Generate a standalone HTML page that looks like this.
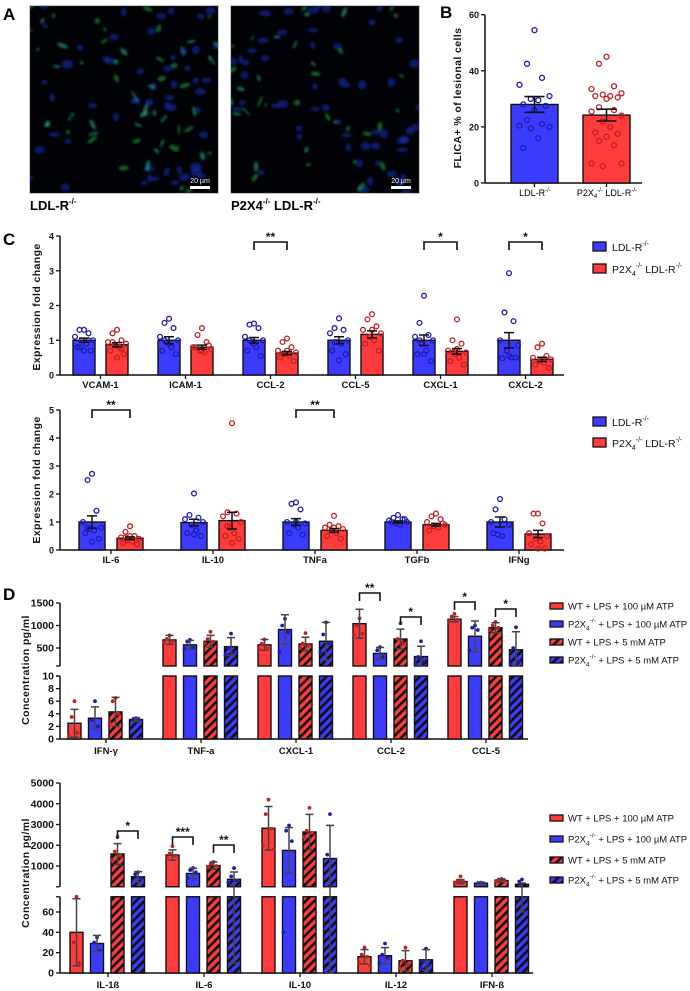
<!DOCTYPE html>
<html><head><meta charset="utf-8"><style>
html,body{margin:0;padding:0;background:#fff;}
svg{display:block;font-family:"Liberation Sans",sans-serif;}
.t{font-size:9px;font-weight:bold;fill:#111;}
.td{font-size:10.5px;font-weight:bold;fill:#111;}
.cat{font-size:9.5px;font-weight:bold;fill:#111;}
.ttl{font-size:10.5px;font-weight:bold;fill:#111;letter-spacing:0.4px;}
.lg{font-size:10.5px;fill:#111;}
.lgd{font-size:9.5px;fill:#111;}
.pl{font-size:17px;font-weight:bold;fill:#000;}
.star{font-size:12px;font-weight:bold;fill:#111;}
</style></head><body>
<svg id="fig" width="690" height="991" viewBox="0 0 690 991">
<defs>
<pattern id="hatchR" width="6" height="6" patternUnits="userSpaceOnUse" patternTransform="rotate(45)"><rect width="6" height="6" fill="#ff3b3b"/><rect width="2.6" height="6" fill="#111"/></pattern>
<pattern id="hatchB" width="6" height="6" patternUnits="userSpaceOnUse" patternTransform="rotate(45)"><rect width="6" height="6" fill="#3b3bff"/><rect width="2.6" height="6" fill="#111"/></pattern>
<filter id="blur"><feGaussianBlur stdDeviation="1.1"/></filter>
<clipPath id="clipL"><rect x="30" y="6" width="188" height="187"/></clipPath>
<clipPath id="clipR"><rect x="231" y="6" width="188" height="187"/></clipPath>
</defs>
<text class="pl" x="3" y="20">A</text>
<text class="pl" x="440" y="18">B</text>
<text class="pl" x="3" y="245">C</text>
<text class="pl" x="3" y="600">D</text>
<g id="imgs"></g>
<g id="panelB"></g>
<g id="panelC1"></g>
<g id="panelC2"></g>
<g id="panelD1"></g>
<g id="panelD2"></g>
</svg>
<script>
// ---------- Panel B data ----------
const B_cats=['LDL-R','P2X4 LDL-R'];
const B_means=[28,24.2];
const B_sems=[2.8,2.1];
const B_bluePts=[54.5,42.5,37.5,35,31,30,29.5,28,27.5,26,22.5,21,20.5,20,19.5,16,12.5];
const B_redPts=[45,42.5,34.5,33.5,32,31.5,31,31,30.5,30,27,26,25.5,24,22,20,18,17.5,16.5,15,13.5,7,7,6];
const B_ticks=[0,20,40,60];
// ---------- Panel C top ----------
const C1_cats=['VCAM-1','ICAM-1','CCL-2','CCL-5','CXCL-1','CXCL-2'];
const C1_blueMean=[1,1,1,1,1,1];
const C1_blueSem=[0.06,0.1,0.08,0.1,0.15,0.22];
const C1_redMean=[0.87,0.8,0.63,1.17,0.68,0.45];
const C1_redSem=[0.06,0.06,0.05,0.1,0.08,0.06];
const C1_bluePts=[[1.3,1.3,1.2,1.1,1.0,1.0,0.9,0.8,0.7,0.7,0.8,1.0],[1.62,1.5,1.35,1.1,1.0,0.95,0.8,0.7,0.6,0.9,1.0],[1.48,1.45,1.35,1.1,1.0,0.95,0.8,0.7,0.55,0.9,1.0],[1.63,1.35,1.3,1.2,1.0,0.95,0.9,0.7,0.6,0.42,0.95],[2.28,1.5,1.15,1.1,1.0,0.9,0.7,0.6,0.4,0.6,1.0],[2.93,1.8,1.55,1.0,0.85,0.7,0.5,0.48,0.5,0.55]];
const C1_redPts=[[1.3,1.2,1.0,0.95,0.9,0.85,0.8,0.7,0.6,0.5,0.95,0.75],[1.35,1.15,0.95,0.8,0.75,0.7,0.65,0.8,0.85,0.7],[1.05,0.95,0.8,0.7,0.65,0.6,0.55,0.5,0.4,0.7,0.6],[1.75,1.6,1.4,1.3,1.2,1.1,1.0,0.9,0.7,1.3],[1.6,1.0,0.9,0.7,0.65,0.6,0.5,0.4,0.3,0.75,0.65],[0.9,0.8,0.55,0.5,0.45,0.4,0.35,0.3,0.2,0.45]];
const C1_ticks=[0,1,2,3,4];
const C1_sig=[[2,'**'],[4,'*'],[5,'*']];
// ---------- Panel C bottom ----------
const C2_cats=['IL-6','IL-10','TNFa','TGFb','IFNg'];
const C2_blueMean=[1,0.98,1.0,1.0,1.0];
const C2_blueSem=[0.22,0.12,0.12,0.04,0.18];
const C2_redMean=[0.42,1.05,0.7,0.9,0.57];
const C2_redSem=[0.05,0.3,0.07,0.05,0.13];
const C2_bluePts=[[2.72,2.5,1.4,1.0,0.8,0.75,0.7,0.6,0.4,0.3,0.8],[2.02,1.25,1.15,1.1,1.0,0.9,0.7,0.6,0.5,0.55],[1.7,1.65,1.45,1.0,0.95,0.9,0.8,0.6,0.55,1.0],[1.25,1.15,1.1,1.05,1.0,0.95,0.9,1.0,1.1],[1.82,1.45,1.1,1.0,0.9,0.55,0.5,0.6]];
const C2_redPts=[[0.85,0.65,0.5,0.45,0.4,0.35,0.3,0.25,0.2,0.5,0.45],[4.53,1.35,1.3,1.2,1.0,0.8,0.6,0.5,0.4,0.25,0.85],[1.22,0.9,0.85,0.8,0.75,0.7,0.6,0.5,0.4,0.8],[1.3,1.2,1.1,1.0,0.9,0.85,0.8,0.7,0.95],[1.3,1.3,0.95,0.6,0.5,0.4,0.3,0.2,0.05,0.05]];
const C2_ticks=[0,1,2,3,4,5];
const C2_sig=[[0,'**'],[2,'**']];
// ---------- Panel D top ----------
const D1_cats=['IFN-γ','TNF-a','CXCL-1','CCL-2','CCL-5'];
const D1_m1=[2.5,680,570,1040,1140]; const D1_sd1=[2.2,100,120,320,60];
const D1_m2=[3.3,570,910,380,760]; const D1_sd2=[1.8,100,330,130,340];
const D1_m3=[4.3,650,590,700,950]; const D1_sd3=[2.3,130,150,220,110];
const D1_m4=[3.1,530,650,310,460]; const D1_sd4=[0.3,200,420,230,400];
const D1_p1=[[6,3.5,1,0.5],[780,700,650,620],[690,600,500,480],[1160,1000,820,800],[1260,1200,1130,1100]];
const D1_p2=[[6,3,2],[680,640,500,480],[1150,1000,850,400],[520,450,300],[1000,950,900,450]];
const D1_p3=[[6.5,6,4,2.5],[860,700,640,600],[830,600,550,500],[1050,700,600],[1080,1000,950,900]];
const D1_p4=[[3.3,3.1,3],[820,500,400,350],[1070,800,600,400],[650,300,200,150],[960,500,200,150]];
const D1_lowTicks=[0,2,4,6,8,10];
const D1_upTicks=[500,1000,1500];
const D1_sig=[[3,0,1,'**',593],[3,2,3,'*',617],[4,0,1,'*',602],[4,2,3,'*',609]];
// ---------- Panel D bottom ----------
const D2_cats=['IL-1ß','IL-6','IL-10','IL-12','IFN-ß'];
const D2_m1=[40,1530,2820,16,250]; const D2_sd1=[33,250,1050,7,100];
const D2_m2=[29,640,1750,17,170]; const D2_sd2=[8,250,1100,8,50];
const D2_m3=[1580,1020,2640,12,300]; const D2_sd3=[500,170,850,10,80];
const D2_m4=[480,360,1360,13,120]; const D2_sd4=[250,350,1600,10,60];
const D2_p1=[[75,30,10],[1950,1600,1500,1400],[4200,3500,2800,2000,1800],[25,18,16,10,7],[500,300,250,200]];
const D2_p2=[[35,30,22],[900,800,700,400],[2950,2700,2200,40],[29,18,15,10],[200,180,150]];
const D2_p3=[[2400,1700,1500,1300],[1200,1100,1000,950],[3800,2700,2600,2400],[25,12,8,5],[380,350,300,280]];
const D2_p4=[[700,600,400],[900,500,300,200],[3500,1550],[24,12,8,5],[350,250]];
const D2_lowTicks=[0,20,40,60];
const D2_upTicks=[1000,2000,3000,4000,5000];
const D2_sig=[[0,2,3,'*',831],[1,0,1,'***',837],[1,2,3,'**',845]];

const NS='http://www.w3.org/2000/svg';
function mk(tag,attrs,parent){const e=document.createElementNS(NS,tag);for(const k in attrs)e.setAttribute(k,attrs[k]);parent.appendChild(e);return e;}
function lin(d0,d1,r0,r1){return v=>r0+(v-d0)*(r1-r0)/(d1-d0);}
const BLUE='#3b3bff',RED='#ff3b3b',DBLUE='#1c1cae',DRED='#c42020';

// ---------- Panel A (microscopy texture) ----------
(function(){
  const g=document.getElementById('imgs');
  const ims=[[30,'clipL'],[231,'clipR']];
  let seed=7;function rnd(){seed=(seed*16807)%2147483647;return seed/2147483647;}
  ims.forEach((im,ii)=>{
    const x0=im[0];
    const r=mk('rect',{x:x0,y:6,width:188,height:187,fill:'#010206',stroke:'#333',"stroke-width":0.6},g);
    
    
    const cg=mk('g',{'clip-path':'url(#'+im[1]+')',filter:'url(#blur)'},g);
    for(let i=0;i<55;i++){
      const cx=x0+rnd()*188,cy=6+rnd()*187;
      mk('ellipse',{cx:cx,cy:cy,rx:2.5+rnd()*3.5,ry:2+rnd()*2.5,fill:'#1630b8',opacity:0.55},cg);
    }
    for(let i=0;i<(ii?35:55);i++){
      const cx=x0+rnd()*188,cy=6+rnd()*187;
      mk('ellipse',{cx:cx,cy:cy,rx:1.5+rnd()*4.5,ry:1+rnd()*1.8,fill:rnd()>0.5?'#22b83c':'#34c49c',opacity:0.5,transform:'rotate('+(rnd()*180)+' '+cx+' '+cy+')'},cg);
    }
    const sb=mk('rect',{x:x0+160,y:186,width:20,height:3,fill:'#fff'},g);
    
    
    const st=mk('text',{x:x0+170,y:183,'text-anchor':'middle','font-size':'7px',fill:'#fff'},g);
    st.textContent='20 µm';
    
    
  });
  const l1=mk('text',{x:30,y:210,'font-size':'13px','font-weight':'bold'},g);
  l1.innerHTML='LDL-R<tspan font-size="8" dy="-6">-/-</tspan>';
  
  
  const l2=mk('text',{x:231,y:210,'font-size':'13px','font-weight':'bold'},g);
  l2.innerHTML='P2X4<tspan font-size="8" dy="-6">-/-</tspan><tspan dy="6"> LDL-R</tspan><tspan font-size="8" dy="-6">-/-</tspan>';
  
  
})();

function yAxis(g,x,ticks,ys,top,bot,cls){
  const a=mk('line',{x1:x,x2:x,y1:top,y2:bot,stroke:'#111','stroke-width':1.5},g);
  
  
  ticks.forEach(t=>{
    mk('line',{x1:x-4,x2:x,y1:ys(t),y2:ys(t),stroke:'#111','stroke-width':1.3},g);
    const tx=mk('text',{x:x-6,y:ys(t)+3.5,'text-anchor':'end',class:cls||'t'},g);
    tx.textContent=t;
    
    
  });
}
function ytitle(g,x,y,txt){
  const t=mk('text',{x:x,y:y,'text-anchor':'middle',class:'ttl',transform:'rotate(-90 '+x+' '+y+')'},g);
  t.textContent=txt;
  
  
}
function circ(g,cx,cy,col,filled,r){
  const c=mk('circle',{cx:cx,cy:cy,r:r||2.3,fill:filled?col:'none',stroke:col,'stroke-width':filled?0:1.3},g);
  
  
}
function jit(i,n,w){const cols=[0,-1,1,-2,2,-0.5,0.5,-1.5,1.5];return cols[i%cols.length]*w;}
function errbar(g,cx,y1,y2,cap,col,w){
  const e=mk('path',{d:'M'+cx+' '+y1+'V'+y2+'M'+(cx-cap)+' '+y1+'H'+(cx+cap)+'M'+(cx-cap)+' '+y2+'H'+(cx+cap),stroke:col,'stroke-width':w||1.5,fill:'none'},g);
  
  
}
function bar(g,x,y,w,h,fill,name){
  const r=mk('rect',{x:x,y:y,width:w,height:Math.max(0,h),fill:fill,stroke:'#111','stroke-width':1.4},g);
  
  
}
function legendLDL(g,x,y1,y2){
  const b1=mk('rect',{x:x,y:y1-5,width:13,height:9,fill:BLUE,stroke:'#111','stroke-width':1.3},g);
  
  
  const t1=mk('text',{x:x+19,y:y1+4,class:'lg'},g);
  t1.innerHTML='LDL-R<tspan font-size="7" dy="-5">-/-</tspan>';
  
  
  const b2=mk('rect',{x:x,y:y2-5,width:13,height:9,fill:RED,stroke:'#111','stroke-width':1.3},g);
  
  
  const t2=mk('text',{x:x+19,y:y2+4,class:'lg'},g);
  t2.innerHTML='P2X<tspan font-size="7" dy="3">4</tspan><tspan font-size="7" dy="-8">-/-</tspan><tspan dy="5"> LDL-R</tspan><tspan font-size="7" dy="-5">-/-</tspan>';
  
  
}

// ---------- Panel B ----------
(function(){
  const g=document.getElementById('panelB');
  const ys=lin(0,60,183,14.7);
  yAxis(g,485,B_ticks,ys,14.7,183);
  const xa=mk('line',{x1:485,x2:642,y1:183,y2:183,stroke:'#111','stroke-width':1.5},g);
  
  
  ytitle(g,461,98,'FLICA+ % of lesional cells');
  const xs=[511,583],bw=47,fills=[BLUE,RED],cols=[DBLUE,DRED],pts=[B_bluePts,B_redPts];
  B_means.forEach((m,i)=>{
    bar(g,xs[i],ys(m),bw,183-ys(m),fills[i],i?'bar-p2x4':'bar-ldlr');
    const cx=xs[i]+bw/2;
    pts[i].forEach((p,j)=>circ(g,cx+jit(j,0,7.5),ys(p),cols[i],false,2.5));
    errbar(g,cx,ys(m-B_sems[i]),ys(m+B_sems[i]),10,'#111',1.6);
    mk('line',{x1:cx,x2:cx,y1:183,y2:187,stroke:'#111','stroke-width':1.3},g);
  });
  const l1=mk('text',{x:535,y:196,'text-anchor':'middle','font-size':'9px'},g);
  l1.innerHTML='LDL-R<tspan font-size="6" dy="-4">-/-</tspan>';
  
  
  const l2=mk('text',{x:607,y:196,'text-anchor':'middle','font-size':'9px'},g);
  l2.innerHTML='P2X<tspan font-size="6" dy="2">4</tspan><tspan font-size="6" dy="-6">-/-</tspan><tspan dy="4"> LDL-R</tspan><tspan font-size="6" dy="-4">-/-</tspan>';
  
  
})();

// ---------- Panel C ----------
function drawC(id,cats,bm,bs,bp,rm,rs,rp,ticks,yMax,yTop,y0,c0,pitch,bw,bOff,rOff,sig,sigY,titleY,legY){
  const g=document.getElementById(id);
  const ys=lin(0,yMax,y0,yTop);
  yAxis(g,60,ticks,ys,yTop,y0);
  const xa=mk('line',{x1:60,x2:564,y1:y0,y2:y0,stroke:'#111','stroke-width':1.5},g);
  
  
  ytitle(g,40,titleY,'Expression fold change');
  cats.forEach((cat,i)=>{
    const c=c0+i*pitch;
    const bx=c+bOff,rx=c+rOff;
    bar(g,bx,ys(bm[i]),bw,y0-ys(bm[i]),BLUE,'bar-ldlr-'+cat.toLowerCase());
    bar(g,rx,ys(rm[i]),bw,y0-ys(rm[i]),RED,'bar-p2x4-'+cat.toLowerCase());
    bp[i].forEach((p,j)=>circ(g,bx+bw/2+jit(j,0,4.5),ys(p),DBLUE,false,2.4));
    rp[i].forEach((p,j)=>circ(g,rx+bw/2+jit(j,0,4.5),ys(p),DRED,false,2.4));
    errbar(g,bx+bw/2,ys(bm[i]-bs[i]),ys(bm[i]+bs[i]),5,'#111',1.5);
    errbar(g,rx+bw/2,ys(rm[i]-rs[i]),ys(rm[i]+rs[i]),5,'#111',1.5);
    const tc=(bx+rx+bw)/2;
    mk('line',{x1:tc,x2:tc,y1:y0,y2:y0+4,stroke:'#111','stroke-width':1.3},g);
    const t=mk('text',{x:tc,y:y0+13,'text-anchor':'middle',class:'cat'},g);
    t.textContent=cat;
    
    
  });
  sig.forEach(s=>{
    const c=c0+s[0]*pitch;
    const x1=c+bOff+bw/2,x2=c+rOff+bw/2;
    const p=mk('path',{d:'M'+x1+' '+(sigY+8)+'V'+sigY+'H'+x2+'V'+(sigY+8),stroke:'#111','stroke-width':1.6,fill:'none'},g);
    
    
    const t=mk('text',{x:(x1+x2)/2,y:sigY-1,'text-anchor':'middle',class:'star'},g);
    t.textContent=s[1];
    
    
  });
  legendLDL(g,593,legY[0],legY[1]);
}
drawC('panelC1',C1_cats,C1_blueMean,C1_blueSem,C1_bluePts,C1_redMean,C1_redSem,C1_redPts,C1_ticks,4,236,375,99,85,22,-26,7,C1_sig,242,307,[247,269]);
drawC('panelC2',C2_cats,C2_blueMean,C2_blueSem,C2_bluePts,C2_redMean,C2_redSem,C2_redPts,C2_ticks,5,410,550,108,102,26,-29,9,C2_sig,410,480,[422,443]);

// ---------- Panel D ----------
function drawD(id,cats,ms,sds,ps,lowTicks,upTicks,lowMax,lowY0,lowYTop,upMin,upMax,upYTop,upY0,axEnd,c0,pitch,sig,titleY,legY){
  const g=document.getElementById(id);
  const low=lin(0,lowMax,lowY0,lowYTop);
  const up=lin(0,upMax,upY0,upYTop);
  const upBot=up(upMin);
  const M=v=>v<=lowMax?low(v):(v>=upMin?up(v):null);
  yAxis(g,60,lowTicks,low,lowYTop,lowY0,'td');
  yAxis(g,60,upTicks,up,upYTop,upBot,'td');
  mk('line',{x1:56,x2:60,y1:upBot,y2:upBot,stroke:'#111','stroke-width':1.3},g);
  mk('line',{x1:56,x2:60,y1:lowYTop,y2:lowYTop,stroke:'#111','stroke-width':1.3},g);
  const xa=mk('line',{x1:60,x2:axEnd,y1:lowY0,y2:lowY0,stroke:'#111','stroke-width':1.5},g);
  
  
  ytitle(g,29,titleY,'Concentration pg/ml');
  const fills=[RED,BLUE,'url(#hatchR)','url(#hatchB)'],cols=[DRED,DBLUE,DRED,DBLUE];
  const names=['wt-100um','p2x4-100um','wt-5mm','p2x4-5mm'];
  const bw=13;
  cats.forEach((cat,i)=>{
    const c=c0+i*pitch;
    for(let k=0;k<4;k++){
      const v=ms[k][i],x=c-40+k*20.5,cx=x+bw/2;
      if(v<=lowMax){bar(g,x,low(v),bw,lowY0-low(v),fills[k],'bar-'+names[k]);}
      else{
        bar(g,x,lowYTop,bw,lowY0-lowYTop,fills[k],'bar-'+names[k]);
        bar(g,x,up(v),bw,upBot-up(v),fills[k],'bar-'+names[k]);
      }
      ps[k][i].forEach((p,j)=>{const y=M(p);if(y!==null)circ(g,cx+jit(j,0,2.8),y,cols[k],true,1.9);});
      let lo=v-sds[k][i],hi=v+sds[k][i];
      if(lo<0)lo=0;
      let y1=M(lo),y2=M(hi);
      if(y1===null)y1=upBot; if(y2===null)y2=lowYTop;
      errbar(g,cx,y1,y2,4,'#444',1.5);
    }
    mk('line',{x1:c-2,x2:c-2,y1:lowY0,y2:lowY0+4,stroke:'#111','stroke-width':1.3},g);
    const t=mk('text',{x:c-2,y:lowY0+15,'text-anchor':'middle',class:'cat','font-size':'10px'},g);
    t.textContent=cat;
    
    
  });
  sig.forEach(s=>{
    const c=c0+s[0]*pitch;
    const x1=c-40+s[1]*20.5+bw/2,x2=c-40+s[2]*20.5+bw/2;
    const y=s[4];
    const p=mk('path',{d:'M'+x1+' '+(y+8)+'V'+y+'H'+x2+'V'+(y+8),stroke:'#111','stroke-width':1.6,fill:'none'},g);
    
    
    const t=mk('text',{x:(x1+x2)/2,y:y-1,'text-anchor':'middle',class:'star'},g);
    t.textContent=s[3];
    
    
  });
  const lt=['WT + LPS + 100 µM ATP','P2X4 + LPS + 100 µM ATP','WT + LPS + 5 mM ATP','P2X4 + LPS + 5 mM ATP'];
  for(let k=0;k<4;k++){
    const y=legY[k];
    const r=mk('rect',{x:550,y:y-3,width:13,height:6,fill:fills[k],stroke:'#111','stroke-width':1.3},g);
    
    
    const t=mk('text',{x:568,y:y+3.5,class:'lgd'},g);
    if(k%2===1)t.innerHTML='P2X<tspan font-size="6.5" dy="3">4</tspan><tspan font-size="6.5" dy="-8">-/-</tspan><tspan dy="5"> + LPS + '+(k===1?'100 µM':'5 mM')+' ATP</tspan>';
    else t.textContent=lt[k];
    
    
  }
}
drawD('panelD1',D1_cats,[D1_m1,D1_m2,D1_m3,D1_m4],[D1_sd1,D1_sd2,D1_sd3,D1_sd4],[D1_p1,D1_p2,D1_p3,D1_p4],D1_lowTicks,D1_upTicks,10,739,676,100,1500,603,670.5,528,108,95,D1_sig,670,[606,624,642,660]);
drawD('panelD2',D2_cats,[D2_m1,D2_m2,D2_m3,D2_m4],[D2_sd1,D2_sd2,D2_sd3,D2_sd4],[D2_p1,D2_p2,D2_p3,D2_p4],D2_lowTicks,D2_upTicks,75,973,896.75,0,5000,783,886.75,533,110,96,D2_sig,873,[818,839,860,880]);
</script>
</body></html>
